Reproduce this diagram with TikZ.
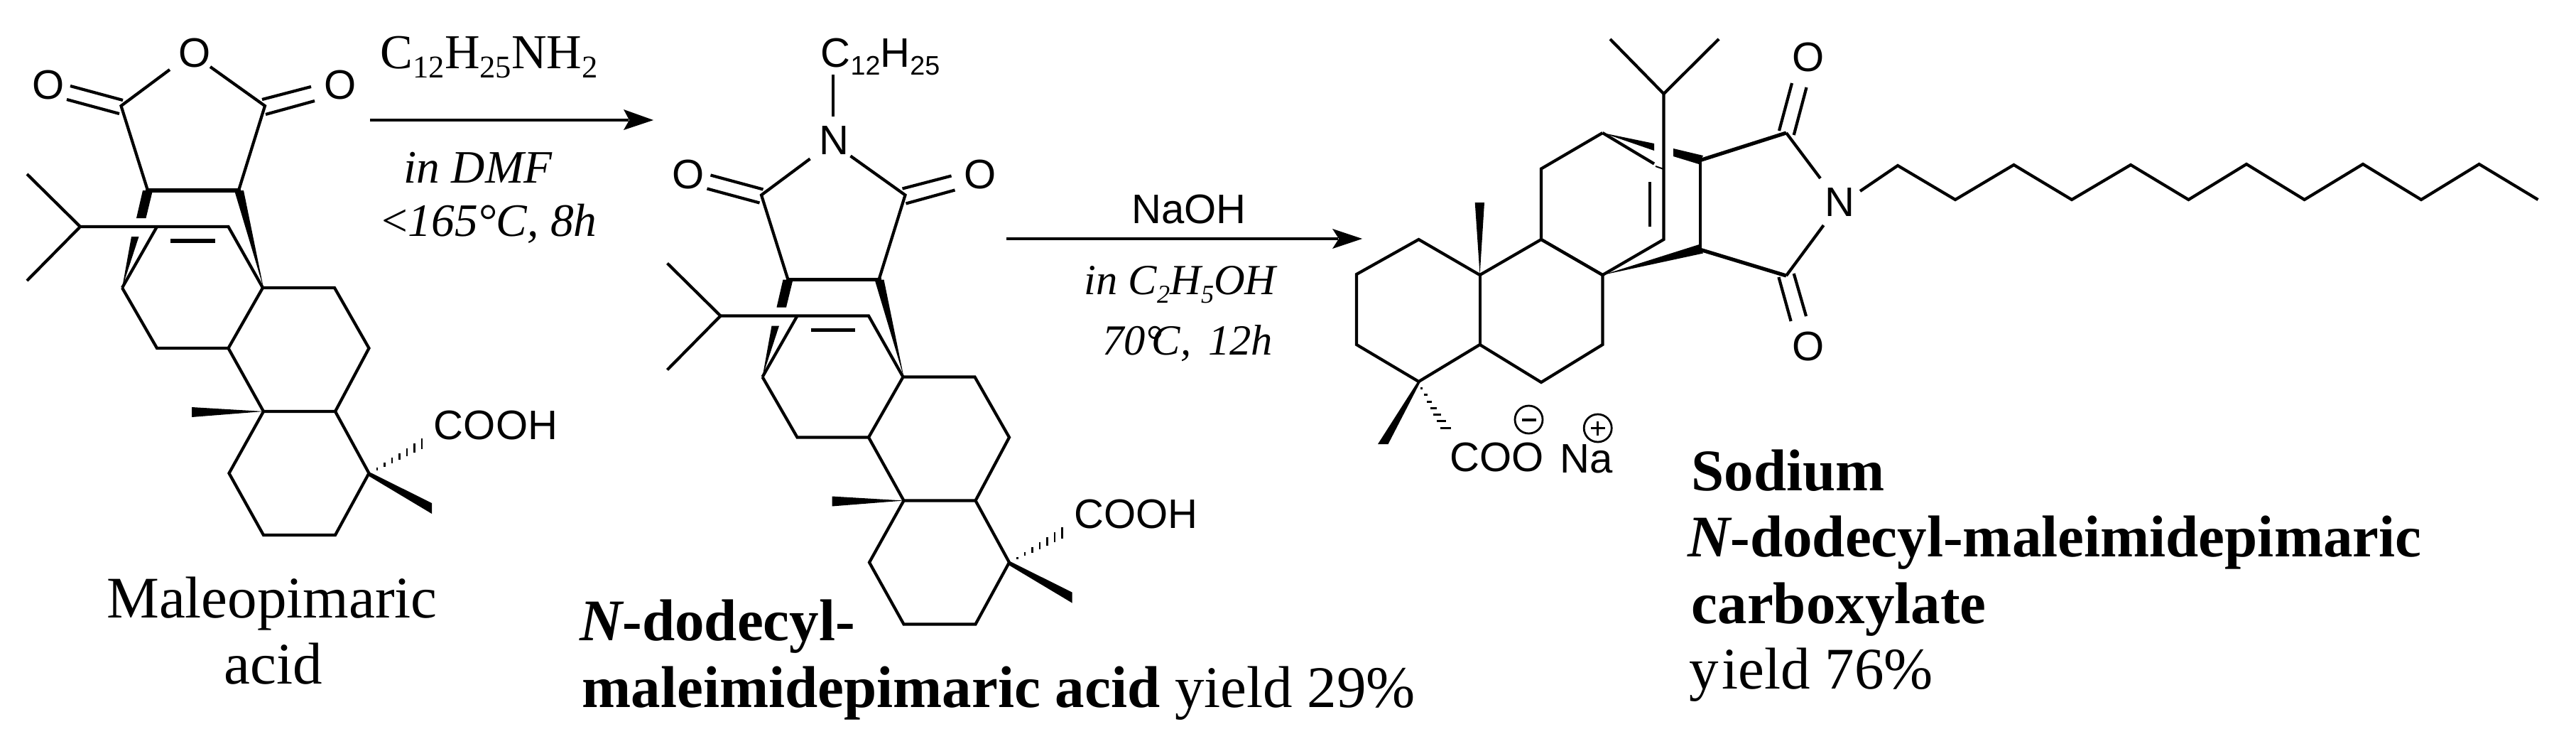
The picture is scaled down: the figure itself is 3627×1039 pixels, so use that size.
\documentclass[tikz,border=0pt]{standalone}
\usepackage{graphicx}
\usepackage{fontspec}
\setmainfont{Liberation Serif}
\setsansfont{Liberation Sans}
\newcommand\sbs[1]{\raisebox{-.2em}{\scalebox{.65}{#1}}}
\newcommand\isbs[1]{\raisebox{-.2em}{\scalebox{.65}{#1}}}
\newcommand\tsbs[1]{\raisebox{-.2em}{\scalebox{.6}{#1}}}
\newcommand\skeleton[2]{%
 \begin{scope}[shift={(#1)}]
  % imide / anhydride ring
  \draw[bond] (239,98) -- (170.5,149) -- (208,268);
  \draw[bond] (296,94) -- (373,149) -- (336,268);
  \draw[thickbond] (205,268) -- (339,268);
  \draw[bond] (99,121) -- (173,141);
  \draw[bond] (94,140) -- (168,160);
  \draw[bond] (438,122) -- (369,140);
  \draw[bond] (443,142) -- (374,161);
  \node[atom] (#2ol) at (68,120) {O};
  \node[atom] (#2or) at (479,120) {O};
  % wedges to the bridge
  \fill (201,268) -- (215,268) -- (205.5,307) -- (192,307) -- cycle;
  \fill (185,333) -- (195.5,333) -- (172,405) -- cycle;
  \fill (330,268) -- (343,268) -- (371,405) -- cycle;
  % isopropyl and bridge
  \draw[bond] (38,245) -- (113,319) -- (38,395);
  \draw[bond] (113,319) -- (321.5,319) -- (370,405);
  \draw[bond] (221,319) -- (172,405);
  \draw[thickbond] (240,339) -- (302.5,339);
  % rings
  \draw[bond] (172,405) -- (221,490) -- (321.5,490) -- (370,405) -- (471,405) -- (519.5,490) -- (472,579) -- (371,579) -- (321.5,490);
  \draw[bond] (371,579) -- (322.5,666) -- (371,753) -- (472,753) -- (519.5,666) -- (472,579);
  % methyls
  \fill (371,579) -- (270,573) -- (270,587) -- cycle;
  \fill (519.5,664) -- (608,708) -- (608,723) -- (516,668) -- cycle;
  % hashed bond
  \foreach \i in {0,...,6}
    \draw[line width=.025cm] ({531+10.5*\i},{660-5.9*\i-1.8-\i}) -- ({531+10.5*\i},{660-5.9*\i+1.8+\i});
  \node[atom] (#2cooh) at (698,598.5) {COOH};
 \end{scope}}
\begin{document}
\begin{tikzpicture}[x=0.01cm,y=-0.01cm,
  bond/.style={line width=.042cm},
  thickbond/.style={line width=.052cm},
  atom/.style={font=\sffamily\fontsize{16.5}{18}\selectfont,inner sep=0pt},
  atomw/.style={atom,anchor=base west},
  reag/.style={font=\fontsize{19.5}{22}\selectfont,inner sep=0pt,anchor=base west},
  cond/.style={font=\itshape\fontsize{18.6}{22}\selectfont,inner sep=0pt,anchor=base west},
  condb/.style={font=\itshape\fontsize{17.2}{22}\selectfont,inner sep=0pt,anchor=base west},
  lab/.style={font=\fontsize{23.6}{26}\selectfont,inner sep=0pt,anchor=base west},
  labc/.style={lab,anchor=base},
  rxn/.style={line width=.042cm},
  charge/.style={circle,draw,line width=.028cm,inner sep=0pt,minimum size=.39cm},
]
\path[use as bounding box] (0,0) rectangle (3627,1039);

% ---------- maleopimaric acid ----------
\skeleton{0,0}{a}
\node[atom] (ao) at (274,74.6) {O};
\node[labc] (aname1) at (383,869) {Maleopimaric};
\node[labc] (aname2) at (385,962) {acid};

% ---------- first arrow ----------
\coordinate (a1s) at (521,169);
\coordinate (a1e) at (885,169);
\draw[rxn] (a1s) -- (a1e);
\fill (920,169) -- (878,154) -- (886,169) -- (878,183) -- cycle;
\node[reag] (r1) at (535,96) {C\isbs{12}H\isbs{25}NH\isbs{2}};
\node[cond] (c1) at (568,257) {in DMF};
\node[cond] (c2) at (537,332) {{\upshape<}165°C, 8h};

% ---------- N-dodecyl acid ----------
\skeleton{901.5,125.5}{b}
\node[atom] (bn) at (1174,198) {N};
\node[atomw] (bc) at (1155,94) {C\sbs{12}H\sbs{25}};
\draw[bond] (1173,105) -- (1173,164);
\node[lab] (bname1) at (816,901) {{\bfseries\itshape N}{\bfseries -dodecyl-}};
\node[lab] (bname2) at (819,995) {{\bfseries maleimidepimaric acid} yield 29\%};

% ---------- second arrow ----------
\coordinate (a2s) at (1417,336);
\coordinate (a2e) at (1884,336);
\draw[rxn] (a2s) -- (a2e);
\fill (1918,336) -- (1876,322) -- (1885,336) -- (1876,350) -- cycle;
\node[atom] (r2) at (1674,295) {NaOH};
\node[condb] (c3) at (1526,414) {in C\tsbs{2}H\tsbs{5}OH};
\node[condb] (c4) at (1551.5,499) {70°\kern-.25em C,\kern.4em 12h};

% ---------- sodium salt ----------
\draw[bond] (2267,55) -- (2342.5,132) -- (2420,55);
\draw[bond] (2342.5,132) -- (2342.5,337) -- (2256.4,387);
\draw[bond] (2323,256) -- (2323,319);
\draw[bond] (2256.4,187) -- (2170,237.5) -- (2170,337) -- (2256.4,387);
\draw[bond] (2256.4,187) -- (2329,230.5);
\draw[line width=.02cm] (2331,234) -- (2342.5,238);
\fill (2256.4,187) -- (2329,202) -- (2329,212) -- cycle;
\fill (2356,209) -- (2398,219) -- (2392,231) -- (2356,220) -- cycle;
\draw[bond] (2394,225.5) -- (2394,351.6);
\draw[thickbond] (2394,225.5) -- (2515,187);
\draw[bond] (2515,187) -- (2563,251);
\draw[bond] (2567.6,317) -- (2515,388);
\draw[thickbond] (2395,351.6) -- (2515,388);
\fill (2256.4,387) -- (2392.5,344) -- (2398,356.5) -- cycle;
\draw[bond] (2523,117) -- (2505,184);
\draw[bond] (2543.5,123) -- (2525.7,190);
\draw[bond] (2504.4,390) -- (2521.6,452);
\draw[bond] (2525.7,385) -- (2543,445);
\node[atom] (co1) at (2546,81) {O};
\node[atom] (co2) at (2546,488) {O};
\node[atom] (cn) at (2590.5,285) {N};
\draw[bond] (2619,269) -- (2672,233) -- (2753,281) -- (2835.4,232) -- (2917,281) -- (3000,232) -- (3081.4,281) -- (3163,231) -- (3244.6,281) -- (3327,231) -- (3409,281) -- (3490.6,231) -- (3573.5,281);
% rings
\draw[bond] (2256.4,387) -- (2170,337) -- (2083.6,387) -- (1997.5,337) -- (1910,386) -- (1910,485) -- (1997.5,537) -- (2083.6,485) -- (2170,538) -- (2256.4,485) -- (2256.4,387);
\draw[bond] (2083.6,387) -- (2083.6,485);
% methyl wedges
\fill (2083.6,387) -- (2076.7,285) -- (2090,285) -- cycle;
\fill (1997.5,535) -- (1940,625) -- (1954.5,625) -- (1999.5,538) -- cycle;
\foreach \i in {0,...,6}
  \draw[line width=.03cm] ({2001.5+5.6*\i-1.5-\i},{546.4+9.3*\i}) -- ({2001.5+5.6*\i+1.5+\i},{546.4+9.3*\i});
% salt labels
\node[atom] (coo) at (2108,644) {COO};
\node[atomw] (na) at (2196,665) {Na};
\node[charge] (minus) at (2152.5,590.5) {};
\draw[line width=.04cm] (2143,590.5) -- (2163,590.5);
\node[charge] (plus) at (2249.7,602.5) {};
\draw[line width=.035cm] (2240,602.5) -- (2260,602.5);
\draw[line width=.035cm] (2249.7,593) -- (2249.7,613);
\node[lab] (cname1) at (2381,690) {\bfseries Sodium};
\node[lab] (cname2) at (2376,783.5) {{\bfseries\itshape N}{\bfseries -dodecyl-maleimidepimaric}};
\node[lab] (cname3) at (2381,877) {\bfseries carboxylate};
\node[lab] (cname4) at (2378,969) {y\kern.05em ield 76\%};
\end{tikzpicture}
\end{document}
